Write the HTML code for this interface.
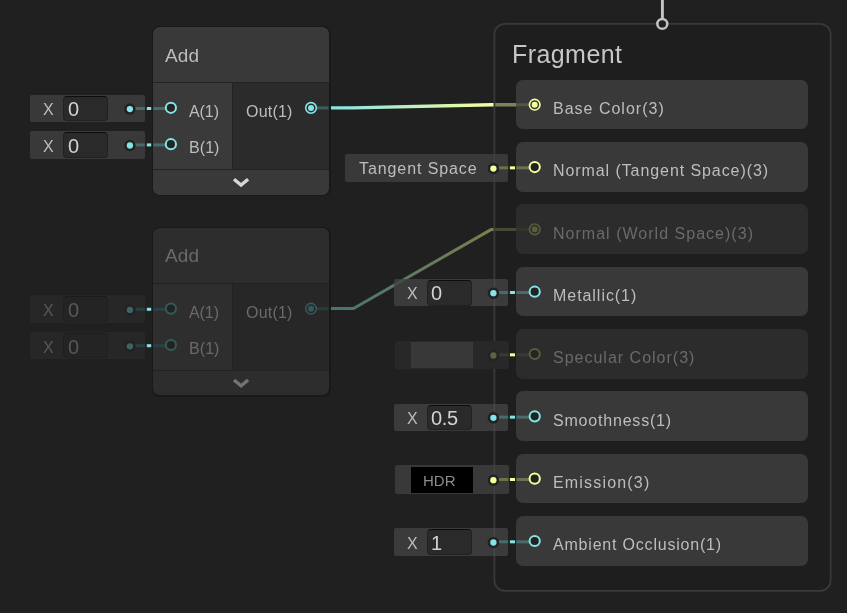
<!DOCTYPE html>
<html lang="en">
<head>
<meta charset="utf-8">
<title>Shader Graph</title>
<style>
html,body{margin:0;padding:0;background:#202020;}
body{width:847px;height:613px;overflow:hidden;position:relative;font-family:"Liberation Sans",sans-serif;}
#graph{position:absolute;left:0;top:0;width:847px;height:613px;overflow:hidden;background:#202020;}
.b{position:absolute;}
.t{position:absolute;white-space:pre;will-change:transform;font-family:"Liberation Sans",sans-serif;}
svg{position:absolute;left:0;top:0;}
</style>
</head>
<body>
<div id="graph">
<svg id="edges" width="847" height="613" viewBox="0 0 847 613">
<defs><linearGradient id="g1" gradientUnits="userSpaceOnUse" x1="330" y1="0" x2="493" y2="0"><stop offset="0" stop-color="#84e4e7"/><stop offset="1" stop-color="#f6ff9a"/></linearGradient><linearGradient id="g2" gradientUnits="userSpaceOnUse" x1="330" y1="0" x2="493" y2="0"><stop offset="0" stop-color="#447476"/><stop offset="1" stop-color="#7b7f4c"/></linearGradient></defs>
<polyline points="311,107.9 353,107.9 491,104.7 534.7,104.7" fill="none" stroke="url(#g1)" stroke-width="3.4"/>
<polyline points="311,308.5 353.5,308.5 491,229.6 534.7,229.6" fill="none" stroke="url(#g2)" stroke-width="3.0" stroke-linejoin="round"/>
<rect x="494.4" y="23.85" width="336.2" height="567.1" rx="10.5" ry="10.5" fill="rgba(30,30,30,0.55)" stroke="#393939" stroke-width="1.8"/>
</svg>
<div class="t " style="left:511.90px;top:38px;font-size:25px;line-height:32px;color:#c6c6c6;letter-spacing:0.43px">Fragment</div>
<div class="b " style="left:516.00px;top:79.70px;width:292.20px;height:49.50px;background:#393939;border-radius:7px;"></div>
<div class="t " style="left:552.90px;top:99px;font-size:16px;line-height:20px;color:#bdbdbd;letter-spacing:1.0px">Base Color(3)</div>
<div class="b " style="left:516.00px;top:142.03px;width:292.20px;height:49.50px;background:#393939;border-radius:7px;"></div>
<div class="t " style="left:552.90px;top:161px;font-size:16px;line-height:20px;color:#bdbdbd;letter-spacing:0.92px">Normal (Tangent Space)(3)</div>
<div class="b " style="left:345.20px;top:154.33px;width:163.10px;height:27.40px;background:#393939;border-radius:2px;"></div>
<div class="t " style="left:358.50px;top:159px;font-size:16px;line-height:20px;color:#bdbdbd;letter-spacing:0.91px">Tangent Space</div>
<div class="b " style="left:493.50px;top:154.33px;width:1.80px;height:27.40px;background:rgba(255,255,255,0.05);"></div>
<div class="b " style="left:516.00px;top:204.36px;width:292.20px;height:49.50px;background:#2c2c2c;border-radius:7px;"></div>
<div class="t " style="left:552.90px;top:224px;font-size:16px;line-height:20px;color:#6a6a6a;letter-spacing:1.02px">Normal (World Space)(3)</div>
<div class="b " style="left:516.00px;top:266.69px;width:292.20px;height:49.50px;background:#393939;border-radius:7px;"></div>
<div class="t " style="left:552.90px;top:286px;font-size:16px;line-height:20px;color:#bdbdbd;letter-spacing:0.95px">Metallic(1)</div>
<div class="b " style="left:393.50px;top:278.99px;width:114.70px;height:27.40px;background:rgba(66,66,66,0.82);border-radius:2px;"></div>
<div class="t " style="left:407.00px;top:284px;font-size:16px;line-height:20px;color:#bdbdbd;letter-spacing:0px">X</div>
<div class="b" style="left:426.80px;top:280.09px;width:44.90px;height:25.50px;background:#2a2a2a;border:1.33px solid #212121;border-top-color:#0d0d0d;border-radius:4px;box-sizing:border-box"></div>
<div class="t " style="left:431.20px;top:281px;font-size:20px;line-height:25px;color:#d2d2d2;letter-spacing:-0.4px">0</div>
<div class="b " style="left:493.50px;top:278.99px;width:1.80px;height:27.40px;background:rgba(255,255,255,0.05);"></div>
<div class="b " style="left:516.00px;top:329.02px;width:292.20px;height:49.50px;background:#2c2c2c;border-radius:7px;"></div>
<div class="t " style="left:552.90px;top:348px;font-size:16px;line-height:20px;color:#6a6a6a;letter-spacing:1.0px">Specular Color(3)</div>
<div class="b " style="left:395.20px;top:340.67px;width:113.40px;height:28.50px;background:#282828;border-radius:2px;z-index:3;"></div>
<div class="b " style="left:410.90px;top:342.17px;width:62.30px;height:25.90px;background:#383838;z-index:4;"></div>
<div class="b " style="left:516.00px;top:391.35px;width:292.20px;height:49.50px;background:#393939;border-radius:7px;"></div>
<div class="t " style="left:552.90px;top:411px;font-size:16px;line-height:20px;color:#bdbdbd;letter-spacing:0.8px">Smoothness(1)</div>
<div class="b " style="left:393.50px;top:403.65px;width:114.70px;height:27.40px;background:rgba(66,66,66,0.82);border-radius:2px;"></div>
<div class="t " style="left:407.00px;top:409px;font-size:16px;line-height:20px;color:#bdbdbd;letter-spacing:0px">X</div>
<div class="b" style="left:426.80px;top:404.75px;width:44.90px;height:25.50px;background:#2a2a2a;border:1.33px solid #212121;border-top-color:#0d0d0d;border-radius:4px;box-sizing:border-box"></div>
<div class="t " style="left:431.20px;top:406px;font-size:20px;line-height:25px;color:#d2d2d2;letter-spacing:-0.4px">0.5</div>
<div class="b " style="left:493.50px;top:403.65px;width:1.80px;height:27.40px;background:rgba(255,255,255,0.05);"></div>
<div class="b " style="left:516.00px;top:453.68px;width:292.20px;height:49.50px;background:#393939;border-radius:7px;"></div>
<div class="t " style="left:552.90px;top:473px;font-size:16px;line-height:20px;color:#bdbdbd;letter-spacing:1.18px">Emission(3)</div>
<div class="b " style="left:395.20px;top:465.33px;width:113.40px;height:28.50px;background:#393939;border-radius:2px;"></div>
<div class="b " style="left:410.90px;top:466.83px;width:62.30px;height:25.90px;background:#000000;"></div>
<div class="t " style="left:423.00px;top:471px;font-size:15px;line-height:19px;color:#8c8c8c;letter-spacing:0px">HDR</div>
<div class="b " style="left:493.50px;top:465.33px;width:1.80px;height:28.50px;background:rgba(255,255,255,0.05);"></div>
<div class="b " style="left:516.00px;top:516.01px;width:292.20px;height:49.50px;background:#393939;border-radius:7px;"></div>
<div class="t " style="left:553.10px;top:535px;font-size:16px;line-height:20px;color:#bdbdbd;letter-spacing:0.8px">Ambient Occlusion(1)</div>
<div class="b " style="left:393.50px;top:528.31px;width:114.70px;height:27.40px;background:rgba(66,66,66,0.82);border-radius:2px;"></div>
<div class="t " style="left:407.00px;top:534px;font-size:16px;line-height:20px;color:#bdbdbd;letter-spacing:0px">X</div>
<div class="b" style="left:426.80px;top:529.41px;width:44.90px;height:25.50px;background:#2a2a2a;border:1.33px solid #212121;border-top-color:#0d0d0d;border-radius:4px;box-sizing:border-box"></div>
<div class="t " style="left:431.20px;top:531px;font-size:20px;line-height:25px;color:#d2d2d2;letter-spacing:-0.4px">1</div>
<div class="b " style="left:493.50px;top:528.31px;width:1.80px;height:27.40px;background:rgba(255,255,255,0.05);"></div>
<div class="b " style="left:152.00px;top:26.00px;width:178.60px;height:170.00px;background:#191919;border-radius:8px;"></div>
<div class="b" style="left:153.40px;top:27.40px;width:175.80px;height:167.20px;border-radius:6.6px;overflow:hidden;background:#232323">
<div class="b" style="left:0;top:0;width:100%;height:54.60px;background:#393939"></div>
<div class="b" style="left:0;top:55.90px;width:78.80px;height:85.80px;background:#3a3a3a"></div>
<div class="b" style="left:80.10px;top:55.90px;width:95.70px;height:85.80px;background:#2b2b2b"></div>
<div class="b" style="left:0;top:143.00px;width:100%;height:24.20px;background:#393939"></div>
</div>
<div class="t " style="left:165.00px;top:44px;font-size:19px;line-height:24px;color:#bdbdbd;letter-spacing:0.08px">Add</div>
<div class="t " style="left:189.00px;top:102px;font-size:16px;line-height:20px;color:#bdbdbd;letter-spacing:-0.08px">A(1)</div>
<div class="t " style="left:189.45px;top:138px;font-size:16px;line-height:20px;color:#bdbdbd;letter-spacing:0.07px">B(1)</div>
<div class="t " style="left:246.30px;top:102px;font-size:16px;line-height:20px;color:#bdbdbd;letter-spacing:0.21px">Out(1)</div>
<div class="b " style="left:30.00px;top:94.50px;width:114.70px;height:27.80px;background:#393939;border-radius:2px;"></div>
<div class="t " style="left:43.10px;top:100px;font-size:16px;line-height:20px;color:#bdbdbd;letter-spacing:0px">X</div>
<div class="b" style="left:63.30px;top:95.60px;width:44.90px;height:25.50px;background:#2a2a2a;border:1.33px solid #212121;border-top-color:#0d0d0d;border-radius:4px;box-sizing:border-box"></div>
<div class="t " style="left:67.70px;top:97px;font-size:20px;line-height:25px;color:#d2d2d2;letter-spacing:-0.4px">0</div>
<div class="b " style="left:30.00px;top:130.90px;width:114.70px;height:27.80px;background:#393939;border-radius:2px;"></div>
<div class="t " style="left:43.10px;top:137px;font-size:16px;line-height:20px;color:#bdbdbd;letter-spacing:0px">X</div>
<div class="b" style="left:63.30px;top:132.00px;width:44.90px;height:25.50px;background:#2a2a2a;border:1.33px solid #212121;border-top-color:#0d0d0d;border-radius:4px;box-sizing:border-box"></div>
<div class="t " style="left:67.70px;top:134px;font-size:20px;line-height:25px;color:#d2d2d2;letter-spacing:-0.4px">0</div>
<div class="b " style="left:152.00px;top:226.80px;width:178.60px;height:170.00px;background:#191919;border-radius:8px;"></div>
<div class="b" style="left:153.40px;top:228.20px;width:175.80px;height:167.20px;border-radius:6.6px;overflow:hidden;background:#222222">
<div class="b" style="left:0;top:0;width:100%;height:54.60px;background:#2d2d2d"></div>
<div class="b" style="left:0;top:55.90px;width:78.80px;height:85.80px;background:#2e2e2e"></div>
<div class="b" style="left:80.10px;top:55.90px;width:95.70px;height:85.80px;background:#272727"></div>
<div class="b" style="left:0;top:143.00px;width:100%;height:24.20px;background:#2d2d2d"></div>
</div>
<div class="t " style="left:165.00px;top:244px;font-size:19px;line-height:24px;color:#6a6a6a;letter-spacing:0.08px">Add</div>
<div class="t " style="left:189.00px;top:303px;font-size:16px;line-height:20px;color:#6a6a6a;letter-spacing:-0.08px">A(1)</div>
<div class="t " style="left:189.45px;top:339px;font-size:16px;line-height:20px;color:#6a6a6a;letter-spacing:0.07px">B(1)</div>
<div class="t " style="left:246.30px;top:303px;font-size:16px;line-height:20px;color:#6a6a6a;letter-spacing:0.21px">Out(1)</div>
<div class="b " style="left:30.00px;top:295.30px;width:114.70px;height:27.80px;background:#272727;border-radius:2px;"></div>
<div class="t " style="left:43.10px;top:301px;font-size:16px;line-height:20px;color:#585858;letter-spacing:0px">X</div>
<div class="b" style="left:63.30px;top:296.40px;width:44.90px;height:25.50px;background:#242424;border:1.33px solid #202020;border-top-color:#1b1b1b;border-radius:4px;box-sizing:border-box"></div>
<div class="t " style="left:67.70px;top:298px;font-size:20px;line-height:25px;color:#585858;letter-spacing:-0.4px">0</div>
<div class="b " style="left:30.00px;top:331.70px;width:114.70px;height:27.80px;background:#272727;border-radius:2px;"></div>
<div class="t " style="left:43.10px;top:338px;font-size:16px;line-height:20px;color:#585858;letter-spacing:0px">X</div>
<div class="b" style="left:63.30px;top:332.80px;width:44.90px;height:25.50px;background:#242424;border:1.33px solid #202020;border-top-color:#1b1b1b;border-radius:4px;box-sizing:border-box"></div>
<div class="t " style="left:67.70px;top:335px;font-size:20px;line-height:25px;color:#585858;letter-spacing:-0.4px">0</div>
<svg id="ports" width="847" height="613" viewBox="0 0 847 613" style="z-index:6">
<line x1="516.2" y1="104.70" x2="529" y2="104.70" stroke="#55573f" stroke-width="3"/>
<circle cx="534.7" cy="104.70" r="5.3" fill="none" stroke="#f6ff9a" stroke-width="1.6"/>
<circle cx="534.7" cy="104.70" r="3.0" fill="#f6ff9a"/>
<line x1="493.4" y1="167.83" x2="508.1" y2="167.83" stroke="#6e704e" stroke-width="3"/>
<line x1="516.4" y1="167.83" x2="529.5" y2="167.83" stroke="#6e704e" stroke-width="3"/>
<line x1="509.9" y1="167.83" x2="515.0" y2="167.83" stroke="#f6ff9a" stroke-width="3"/>
<circle cx="493.4" cy="168.53" r="5.75" fill="#222222"/>
<circle cx="493.4" cy="168.53" r="3.15" fill="#f6ff9a"/>
<circle cx="534.7" cy="167.03" r="5.1" fill="#222222" stroke="#f6ff9a" stroke-width="2"/>
<line x1="516.2" y1="229.36" x2="529" y2="229.36" stroke="#34352a" stroke-width="3"/>
<circle cx="534.7" cy="229.36" r="5.3" fill="none" stroke="#5a5c3d" stroke-width="1.6"/>
<circle cx="534.7" cy="229.36" r="3.0" fill="#5a5c3d"/>
<line x1="493.4" y1="292.49" x2="508.1" y2="292.49" stroke="#4a6b6c" stroke-width="3"/>
<line x1="516.4" y1="292.49" x2="529.5" y2="292.49" stroke="#4a6b6c" stroke-width="3"/>
<line x1="509.9" y1="292.49" x2="515.0" y2="292.49" stroke="#84e4e7" stroke-width="3"/>
<circle cx="493.4" cy="293.19" r="5.75" fill="#222222"/>
<circle cx="493.4" cy="293.19" r="3.15" fill="#84e4e7"/>
<circle cx="534.7" cy="291.69" r="5.1" fill="#222222" stroke="#84e4e7" stroke-width="2"/>
<line x1="493.4" y1="354.82" x2="508.1" y2="354.82" stroke="#3a3b2c" stroke-width="3"/>
<line x1="516.4" y1="354.82" x2="529.5" y2="354.82" stroke="#3a3b2c" stroke-width="3"/>
<line x1="509.9" y1="354.82" x2="515.0" y2="354.82" stroke="#f6ff9a" stroke-width="3"/>
<circle cx="493.4" cy="355.52" r="5.75" fill="#232323"/>
<circle cx="493.4" cy="355.52" r="3.15" fill="#5f6143"/>
<circle cx="534.7" cy="354.02" r="5.1" fill="#252525" stroke="#5a5c3d" stroke-width="2"/>
<line x1="493.4" y1="417.15" x2="508.1" y2="417.15" stroke="#4a6b6c" stroke-width="3"/>
<line x1="516.4" y1="417.15" x2="529.5" y2="417.15" stroke="#4a6b6c" stroke-width="3"/>
<line x1="509.9" y1="417.15" x2="515.0" y2="417.15" stroke="#84e4e7" stroke-width="3"/>
<circle cx="493.4" cy="417.85" r="5.75" fill="#222222"/>
<circle cx="493.4" cy="417.85" r="3.15" fill="#84e4e7"/>
<circle cx="534.7" cy="416.35" r="5.1" fill="#222222" stroke="#84e4e7" stroke-width="2"/>
<line x1="493.4" y1="479.48" x2="508.1" y2="479.48" stroke="#6e704e" stroke-width="3"/>
<line x1="516.4" y1="479.48" x2="529.5" y2="479.48" stroke="#6e704e" stroke-width="3"/>
<line x1="509.9" y1="479.48" x2="515.0" y2="479.48" stroke="#f6ff9a" stroke-width="3"/>
<circle cx="493.4" cy="480.18" r="5.75" fill="#222222"/>
<circle cx="493.4" cy="480.18" r="3.15" fill="#f6ff9a"/>
<circle cx="534.7" cy="478.68" r="5.1" fill="#222222" stroke="#f6ff9a" stroke-width="2"/>
<line x1="493.4" y1="541.81" x2="508.1" y2="541.81" stroke="#4a6b6c" stroke-width="3"/>
<line x1="516.4" y1="541.81" x2="529.5" y2="541.81" stroke="#4a6b6c" stroke-width="3"/>
<line x1="509.9" y1="541.81" x2="515.0" y2="541.81" stroke="#84e4e7" stroke-width="3"/>
<circle cx="493.4" cy="542.51" r="5.75" fill="#222222"/>
<circle cx="493.4" cy="542.51" r="3.15" fill="#84e4e7"/>
<circle cx="534.7" cy="541.01" r="5.1" fill="#222222" stroke="#84e4e7" stroke-width="2"/>
<line x1="662.4" y1="0" x2="662.4" y2="18.5" stroke="#c4c4c4" stroke-width="2.9"/>
<circle cx="662.3" cy="23.9" r="4.95" fill="#202020" stroke="#c4c4c4" stroke-width="2.5"/>
<polyline points="234.0,179.25 241.05,185.00 248.1,179.25" fill="none" stroke="#d6d6d6" stroke-width="3.4" stroke-linejoin="miter"/>
<line x1="129.9" y1="108.50" x2="144.8" y2="108.50" stroke="#4a6b6c" stroke-width="3"/>
<line x1="153.3" y1="108.50" x2="166" y2="108.50" stroke="#4a6b6c" stroke-width="3"/>
<line x1="146.8" y1="108.50" x2="151.2" y2="108.50" stroke="#84e4e7" stroke-width="3"/>
<circle cx="129.9" cy="109.10" r="5.75" fill="#222222"/>
<circle cx="129.9" cy="109.10" r="3.15" fill="#84e4e7"/>
<circle cx="170.9" cy="107.80" r="5.1" fill="#242424" stroke="#84e4e7" stroke-width="2"/>
<line x1="129.9" y1="144.90" x2="144.8" y2="144.90" stroke="#4a6b6c" stroke-width="3"/>
<line x1="153.3" y1="144.90" x2="166" y2="144.90" stroke="#4a6b6c" stroke-width="3"/>
<line x1="146.8" y1="144.90" x2="151.2" y2="144.90" stroke="#84e4e7" stroke-width="3"/>
<circle cx="129.9" cy="145.50" r="5.75" fill="#222222"/>
<circle cx="129.9" cy="145.50" r="3.15" fill="#84e4e7"/>
<circle cx="170.9" cy="144.20" r="5.1" fill="#242424" stroke="#84e4e7" stroke-width="2"/>
<line x1="316" y1="107.90" x2="328.6" y2="107.90" stroke="#3f5e5f" stroke-width="3"/>
<circle cx="311.0" cy="107.90" r="5.3" fill="none" stroke="#84e4e7" stroke-width="1.6"/>
<circle cx="311.0" cy="107.90" r="3.0" fill="#84e4e7"/>
<polyline points="234.0,380.05 241.05,385.80 248.1,380.05" fill="none" stroke="#747474" stroke-width="3.4" stroke-linejoin="miter"/>
<line x1="129.9" y1="309.30" x2="144.8" y2="309.30" stroke="#2d4041" stroke-width="3"/>
<line x1="153.3" y1="309.30" x2="166" y2="309.30" stroke="#2d4041" stroke-width="3"/>
<line x1="146.8" y1="309.30" x2="151.2" y2="309.30" stroke="#84e4e7" stroke-width="3"/>
<circle cx="129.9" cy="309.90" r="5.75" fill="#232323"/>
<circle cx="129.9" cy="309.90" r="3.15" fill="#3d6365"/>
<circle cx="170.9" cy="308.60" r="5.1" fill="#222222" stroke="#36595b" stroke-width="2"/>
<line x1="129.9" y1="345.70" x2="144.8" y2="345.70" stroke="#2d4041" stroke-width="3"/>
<line x1="153.3" y1="345.70" x2="166" y2="345.70" stroke="#2d4041" stroke-width="3"/>
<line x1="146.8" y1="345.70" x2="151.2" y2="345.70" stroke="#84e4e7" stroke-width="3"/>
<circle cx="129.9" cy="346.30" r="5.75" fill="#232323"/>
<circle cx="129.9" cy="346.30" r="3.15" fill="#3d6365"/>
<circle cx="170.9" cy="345.00" r="5.1" fill="#222222" stroke="#36595b" stroke-width="2"/>
<line x1="316" y1="308.70" x2="328.6" y2="308.70" stroke="#2a3c3d" stroke-width="3"/>
<circle cx="311.0" cy="308.70" r="5.3" fill="none" stroke="#36595b" stroke-width="1.6"/>
<circle cx="311.0" cy="308.70" r="3.0" fill="#36595b"/>
</svg>
</div>
</body>
</html>
